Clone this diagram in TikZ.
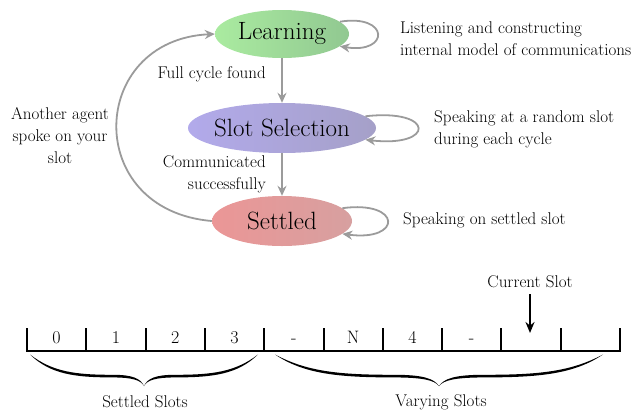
\documentclass[tikz,border=0pt]{standalone}
\usetikzlibrary{shapes.geometric,arrows.meta}
\definecolor{arrgray}{RGB}{155,155,155}
\definecolor{lgA}{RGB}{170,235,160}
\definecolor{lgB}{RGB}{145,200,145}
\definecolor{ssA}{RGB}{178,170,235}
\definecolor{ssB}{RGB}{165,160,200}
\definecolor{stA}{RGB}{235,150,150}
\definecolor{stB}{RGB}{215,160,160}
\tikzset{
  statebox/.style={ellipse, inner xsep=-20pt, inner ysep=0pt, font=\fontsize{25}{28}\selectfont},
  arr/.style={draw=arrgray, line width=1.8pt, -{Stealth[length=10pt,width=9pt]}},
  lbl/.style={font=\fontsize{17}{22}\selectfont, inner sep=0pt},
  slotlbl/.style={font=\fontsize{18}{18}\selectfont, inner sep=0pt, anchor=base},
}
\newcommand\curlybrace[3]{% mid x, half width, name
  \begin{scope}[shift={(#1,0)}, xscale=#2]
    \coordinate (#3) at (0,385);
    \foreach \sgn in {1,-1} {
      \fill[xscale=\sgn] (-1,354.5) .. controls (-0.82,374.5) and (-0.6,377.4) .. (-0.27,377.4)
        .. controls (-0.1,377.6) and (-0.03,380) .. (0,386)
        .. controls (-0.03,378.5) and (-0.1,374.8) .. (-0.27,374.8)
        .. controls (-0.6,374.8) and (-0.8,372) .. (-1,354.5) -- cycle;
    }
  \end{scope}
}
\begin{document}
\begin{tikzpicture}[x=1pt,y=-1pt]
\useasboundingbox (0,0) rectangle (636,410);
% states
\node[statebox, minimum width=134pt, minimum height=48pt, left color=lgA, right color=lgB] (L) at (282,34) {Learning};
\node[statebox, minimum width=188pt, minimum height=50pt, left color=ssA, right color=ssB] (S) at (282,128) {Slot Selection};
\node[statebox, minimum width=140pt, minimum height=50pt, left color=stA, right color=stB] (T) at (282,221) {Settled};
% transitions
\draw[arr] (L.south) -- (S.north);
\draw[arr] (S.south) -- (T.north);
\draw[arr] (T.west) .. controls (82,210) and (88,40) .. (L.west);
% self loops
\draw[arr] (L.12) .. controls +(50,-8) and +(50,8) .. (L.-12);
\draw[arr] (S.8) .. controls +(70,-8) and +(70,8) .. (S.-8);
\draw[arr] (T.12) .. controls +(60,-8) and +(60,8) .. (T.-12);
% labels
\node[lbl, anchor=east] (fc) at (266,74) {Full cycle found};
\node[lbl, anchor=east, align=right] (cs) at (266,174) {Communicated\\successfully};
\node[lbl, align=center] (aa) at (60,136) {Another agent\\spoke on your\\slot};
\node[lbl, anchor=west, align=left] (d1) at (400,39) {Listening and constructing\\internal model of communications};
\node[lbl, anchor=west, align=left] (d2) at (434,129) {Speaking at a random slot\\during each cycle};
\node[lbl, anchor=west] (d3) at (403,220) {Speaking on settled slot};
% slot bar
\coordinate (b0) at (26,350.5);
\coordinate (b1) at (621,350.5);
\draw[line width=2pt] (b0) -- (b1);
\foreach \i in {0,...,10} {
  \coordinate (t\i) at ({27+\i*59.3},328);
  \draw[line width=2pt] ({27+\i*59.3},328) -- ({27+\i*59.3},351.5);
}
\foreach \lab [count=\i from 0] in {0,1,2,3,-,N,4,-,{},{}} {
  \node[slotlbl] (s\i) at ({56.6+\i*59.3},343.5) {\lab};
}
% current slot
\node[lbl] (cur) at (530,282) {Current Slot};
\coordinate (curtip) at (530,333);
\draw[line width=2pt, -{Stealth[length=11pt,width=9pt]}] (cur.south) ++(0,6) -- (curtip);
% braces
\curlybrace{144}{114}{br1}
\curlybrace{439}{164}{br2}
\node[lbl] (ss) at (145,402) {Settled Slots};
\node[lbl] (vs) at (441,402) {Varying Slots};
\end{tikzpicture}
\end{document}
